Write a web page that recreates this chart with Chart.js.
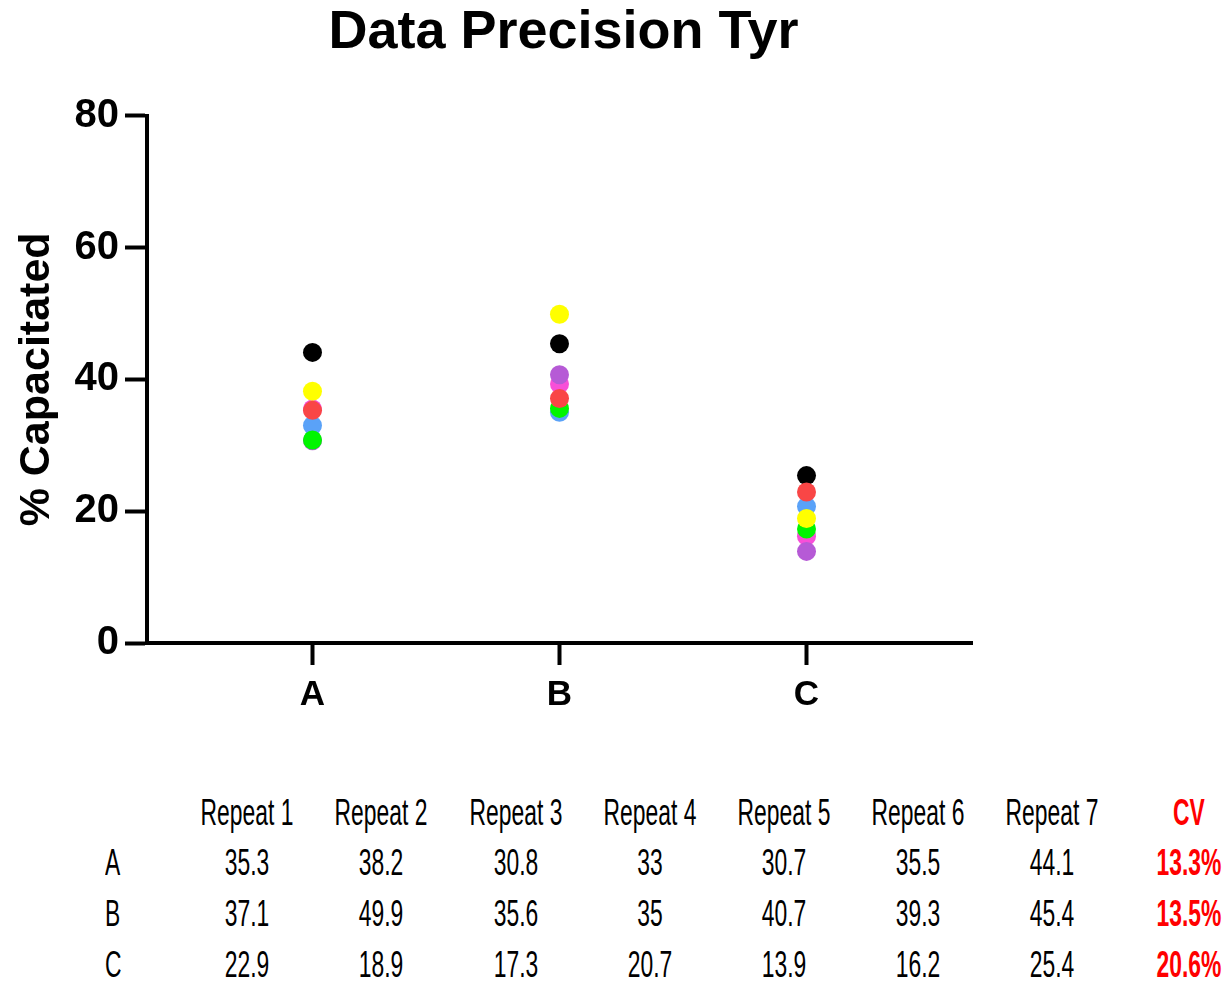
<!DOCTYPE html>
<html lang="en">
<head>
<meta charset="UTF-8">
<title>Data Precision Tyr</title>
<script src="https://cdn.jsdelivr.net/npm/chart.js"></script>
<style>
  body {
    margin: 0;
    background: #fff;
  }
  #wrap {
    position: relative;
    width: 1232px;
    height: 982px;
  }
  #chart-box {
    position: absolute;
    left: 0;
    top: 0;
    width: 1232px;
    height: 740px;
  }
  .cell {
    position: absolute;
    width: 160px;
    text-align: center;
    font-family: "Liberation Sans", Arial, sans-serif;
    font-size: 36px;
    line-height: 36px;
    color: #000;
    transform: scaleX(0.635);
  }
  .cell.cv {
    color: #ff0000;
    font-weight: bold;
  }
  .cell.rowname {
    width: auto;
    text-align: left;
    transform-origin: left center;
  }
</style>
</head>
<body>

<div id="wrap">
  <div id="chart-box"><canvas id="tyr-chart"></canvas></div>
  <div id="table"></div>
</div>

<script>
  const categories = ['A', 'B', 'C'];
  const repeatNames = ['Repeat 1', 'Repeat 2', 'Repeat 3', 'Repeat 4', 'Repeat 5', 'Repeat 6', 'Repeat 7'];
  const valuesA = [35.3, 38.2, 30.8, 33, 30.7, 35.5, 44.1];
  const valuesB = [37.1, 49.9, 35.6, 35, 40.7, 39.3, 45.4];
  const valuesC = [22.9, 18.9, 17.3, 20.7, 13.9, 16.2, 25.4];
  const cvValues = ['13.3%', '13.5%', '20.6%'];
  const yTicks = [0, 20, 40, 60, 80];

  const repeatColors = ['#f94646', '#ffff00', '#00f500', '#5aa2f8', '#b65ad6', '#f84fd8', '#000000'];

  const rows = [valuesA, valuesB, valuesC];

  // one dataset per repeat, x = category index
  const datasets = repeatNames.map((name, i) => ({
    label: name,
    data: rows.map((r, c) => ({ x: c, y: r[i] })),
    pointRadius: 9.5,
    pointHoverRadius: 9.5,
    pointBackgroundColor: repeatColors[i],
    pointBorderWidth: 0,
    showLine: false
  }));

  // keep the title centred over the plot area rather than the whole canvas
  const centreTitle = {
    id: 'centreTitle',
    afterLayout(chart) {
      if (chart.titleBlock) {
        chart.titleBlock.left = chart.chartArea.left;
        chart.titleBlock.right = chart.chartArea.right + 8;
      }
    }
  };

  const ctx = document.getElementById('tyr-chart').getContext('2d');
  new Chart(ctx, {
    type: 'scatter',
    data: { datasets: datasets },
    plugins: [centreTitle],
    options: {
      responsive: true,
      maintainAspectRatio: false,
      animation: false,
      layout: { padding: { left: 0, right: 260, top: 0, bottom: 0 } },
      plugins: {
        legend: { display: false },
        tooltip: { enabled: false },
        title: {
          display: true,
          text: 'Data Precision Tyr',
          color: '#000',
          font: { family: 'Liberation Sans, Arial, sans-serif', size: 54, weight: 'bold' },
          padding: { top: 1, bottom: 50 }
        }
      },
      scales: {
        x: {
          type: 'linear',
          min: -0.67,
          max: 2.67,
          afterBuildTicks: (scale) => {
            scale.ticks = categories.map((c, i) => ({ value: i }));
          },
          afterFit: (scale) => { scale.height = 97; },
          border: { display: true, color: '#000', width: 4 },
          grid: {
            drawOnChartArea: false,
            drawTicks: true,
            tickLength: 22,
            tickWidth: 4,
            tickColor: '#000'
          },
          ticks: {
            color: '#000',
            padding: 9,
            font: { family: 'Liberation Sans, Arial, sans-serif', size: 35, weight: 'bold' },
            callback: (v) => categories[v]
          }
        },
        y: {
          min: 0,
          max: 80,
          afterBuildTicks: (scale) => {
            scale.ticks = yTicks.map(v => ({ value: v }));
          },
          afterFit: (scale) => { scale.width = 147; },
          border: { display: true, color: '#000', width: 4 },
          grid: {
            drawOnChartArea: false,
            drawTicks: true,
            tickLength: 22,
            tickWidth: 4,
            tickColor: '#000'
          },
          ticks: {
            color: '#000',
            padding: 6,
            font: { family: 'Liberation Sans, Arial, sans-serif', size: 40, weight: 'bold' }
          },
          title: {
            display: true,
            text: '% Capacitated',
            color: '#000',
            padding: { top: 11, bottom: 0 },
            font: { family: 'Liberation Sans, Arial, sans-serif', size: 43, weight: 'bold' }
          }
        }
      }
    }
  });

  // table of repeat values with CV column
  const table = document.getElementById('table');
  const colCenters = [247, 381, 516, 650, 784, 918, 1052, 1189];
  const rowTops = [795, 845, 896, 947];

  function addCell(text, x, y, cls) {
    const d = document.createElement('div');
    d.className = 'cell' + (cls ? ' ' + cls : '');
    d.textContent = text;
    d.style.top = y + 'px';
    if (cls && cls.indexOf('rowname') >= 0) {
      d.style.left = x + 'px';
    } else {
      d.style.left = (x - 80) + 'px';
    }
    table.appendChild(d);
  }

  repeatNames.forEach((name, i) => addCell(name, colCenters[i], rowTops[0]));
  addCell('CV', colCenters[7], rowTops[0], 'cv');
  rows.forEach((r, ri) => {
    addCell(categories[ri], 105, rowTops[ri + 1], 'rowname');
    r.forEach((v, i) => addCell(String(v), colCenters[i], rowTops[ri + 1]));
    addCell(cvValues[ri], colCenters[7], rowTops[ri + 1], 'cv');
  });
</script>

</body>
</html>
